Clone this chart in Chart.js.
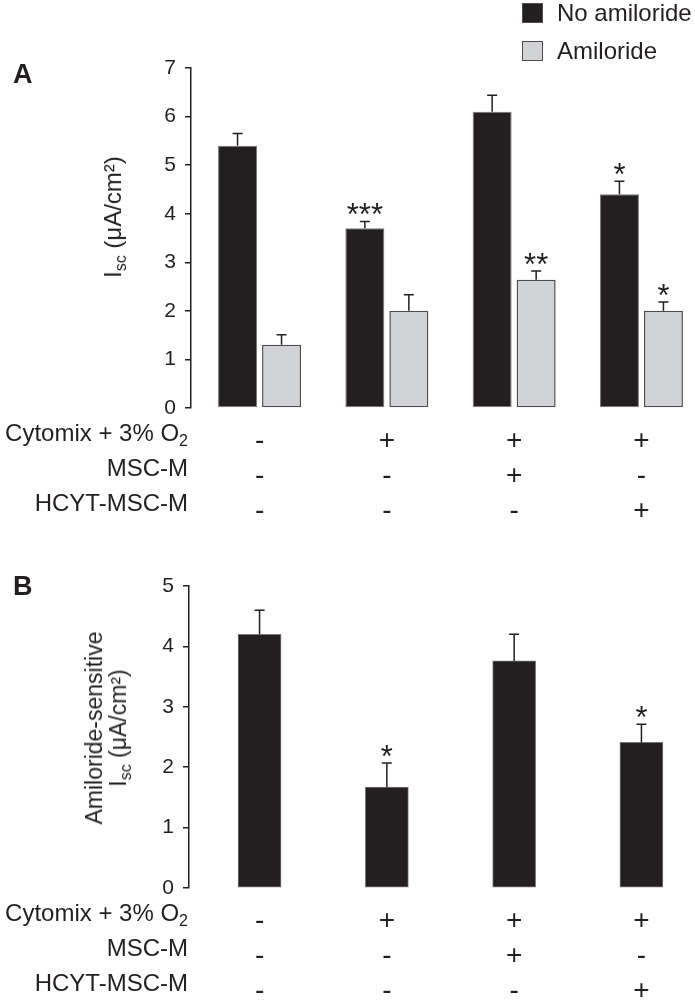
<!DOCTYPE html>
<html>
<head>
<meta charset="utf-8">
<script src="https://cdn.jsdelivr.net/npm/chart.js@4.4.0/dist/chart.umd.min.js"></script>
<style>
html, body { margin: 0; padding: 0; background: #fff; overflow: hidden; }
body { width: 695px; height: 1004px; position: relative; font-family: "Liberation Sans", Arial, sans-serif; color: #231f20; }
canvas { position: absolute; left: 0; }
.abs { position: absolute; }
.panel { font-weight: bold; font-size: 27px; line-height: 27px; }
.rows { right: 507px; text-align: right; font-size: 24px; line-height: 35px; white-space: nowrap; }
sub { font-size: 16px; vertical-align: -5px; line-height: 0; }
.ytitle { transform: translate(-50%, -50%) rotate(-90deg); font-size: 24px; line-height: 24px; white-space: nowrap; text-align: center; }
.leg { left: 522px; font-size: 24px; line-height: 24px; white-space: nowrap; }
.leg span { display: inline-block; width: 19px; height: 18px; border: 1px solid #4d4d4f; vertical-align: -2px; margin-right: 14px; }
</style>
</head>
<body>
<canvas id="chartA" width="695" height="531" style="top:0"></canvas>
<canvas id="chartB" width="695" height="473" style="top:531px"></canvas>

<div class="abs panel" style="left:13px;top:61px">A</div>
<div class="abs panel" style="left:13px;top:573px">B</div>

<div class="abs ytitle" style="left:113px;top:217px">I<sub>sc</sub> (μA/cm²)</div>
<div class="abs ytitle" style="left:106px;top:728px;font-size:23px;line-height:24px">Amiloride-sensitive<br>I<sub>sc</sub> (μA/cm²)</div>

<div class="abs rows" style="top:415px">Cytomix + 3% O<sub>2</sub><br>MSC-M<br>HCYT-MSC-M</div>
<div class="abs rows" style="top:895px">Cytomix + 3% O<sub>2</sub><br>MSC-M<br>HCYT-MSC-M</div>

<div id="legend"></div>

<script>
const groups = ['Control', 'Cytomix', 'Cytomix + MSC-M', 'Cytomix + HCYT-MSC-M'];
const cytomixRow = ['-', '+', '+', '+'];
const mscRow = ['-', '-', '+', '-'];
const hcytRow = ['-', '-', '-', '+'];

const noAmiloride = [5.4, 3.7, 6.1, 4.4];
const noAmilorideErr = [0.25, 0.14, 0.34, 0.27];
const noAmilorideSig = ['', '***', '', '*'];
const amiloride = [1.3, 2.0, 2.64, 2.0];
const amilorideErr = [0.21, 0.33, 0.18, 0.18];
const amilorideSig = ['', '', '**', '*'];

const sensitive = [4.2, 1.67, 3.76, 2.41];
const sensitiveErr = [0.4, 0.4, 0.44, 0.3];
const sensitiveSig = ['', '*', '', '*'];

const yTicksA = [0, 1, 2, 3, 4, 5, 6, 7];
const yTicksB = [0, 1, 2, 3, 4, 5];

const ink = '#231f20';
const grey = '#d1d3d4';
const font = '"Liberation Sans", Arial, sans-serif';

// whiskers (up only) and significance stars over each bar
const errorBars = {
  id: 'errorBars',
  afterDatasetsDraw(chart) {
    const ctx = chart.ctx, y = chart.scales.y;
    chart.data.datasets.forEach((ds, di) => {
      chart.getDatasetMeta(di).data.forEach((bar, i) => {
        const top = y.getPixelForValue(ds.data[i].y + ds.errors[i]);
        ctx.save();
        ctx.strokeStyle = ink;
        ctx.lineWidth = 1.5;
        ctx.beginPath();
        ctx.moveTo(bar.x, bar.y);
        ctx.lineTo(bar.x, top);
        ctx.moveTo(bar.x - 5, top);
        ctx.lineTo(bar.x + 5, top);
        ctx.stroke();
        if (ds.stars[i]) {
          ctx.fillStyle = ink;
          ctx.font = '31px ' + font;
          ctx.textAlign = 'center';
          ctx.textBaseline = 'alphabetic';
          ctx.fillText(ds.stars[i], bar.x, top + 4);
        }
        ctx.restore();
      });
    });
  }
};

function points(vals) {
  return vals.map((v, i) => ({x: i, y: v}));
}

function makeChart(id, datasets, yTicks, padding, xMin) {
  return new Chart(document.getElementById(id), {
    type: 'bar',
    data: {datasets},
    options: {
      responsive: false,
      animation: false,
      layout: {padding},
      plugins: {legend: {display: false}, tooltip: {enabled: false}},
      scales: {
        x: {
          type: 'linear', min: xMin, max: 3.4207, offset: false,
          grid: {display: false}, border: {display: false},
          afterBuildTicks: s => { s.ticks = groups.map((g, i) => ({value: i})); },
          afterFit: s => { s.height = 113; },
          ticks: {
            autoSkip: false, maxRotation: 0, padding: 8, color: ink,
            font: {family: font, size: 28, lineHeight: '35px'},
            callback: (v, i) => [cytomixRow[i], mscRow[i], hcytRow[i]]
          }
        },
        y: {
          min: 0, max: yTicks[yTicks.length - 1],
          afterBuildTicks: s => { s.ticks = yTicks.map(v => ({value: v})); },
          afterFit: s => { s.width = 50; },
          grid: {drawOnChartArea: false, drawTicks: true, tickLength: 6, color: ink, lineWidth: 1.5},
          border: {display: true, color: ink, width: 1.5},
          ticks: {padding: 9, color: ink, font: {family: font, size: 21}}
        }
      }
    },
    plugins: [errorBars]
  });
}

const datasetsA = [
  {label: 'No amiloride', data: points(noAmiloride), errors: noAmilorideErr, stars: noAmilorideSig,
   backgroundColor: ink, borderColor: '#77777a', borderWidth: 1, borderSkipped: false,
   categoryPercentage: 0.6913, barPercentage: 0.886},
  {label: 'Amiloride', data: points(amiloride), errors: amilorideErr, stars: amilorideSig,
   backgroundColor: grey, borderColor: '#4d4d4f', borderWidth: 1.5, borderSkipped: false,
   categoryPercentage: 0.6913, barPercentage: 0.886}
];
const datasetsB = [
  {label: 'Amiloride-sensitive', data: points(sensitive), errors: sensitiveErr, stars: sensitiveSig,
   backgroundColor: ink, borderColor: '#77777a', borderWidth: 1, borderSkipped: false,
   barThickness: 43}
];

makeChart('chartA', datasetsA, yTicksA, {top: 68, left: 141, right: 0, bottom: 10}, -0.5385);
makeChart('chartB', datasetsB, yTicksB, {top: 55, left: 139, right: 0, bottom: 3}, -0.5542);

// legend built from panel A series
document.getElementById('legend').innerHTML = datasetsA.map((ds, i) =>
  `<div class="abs leg" style="top:${1 + i * 38}px"><span style="background:${ds.backgroundColor}"></span>${ds.label}</div>`
).join('');
</script>
</body>
</html>
